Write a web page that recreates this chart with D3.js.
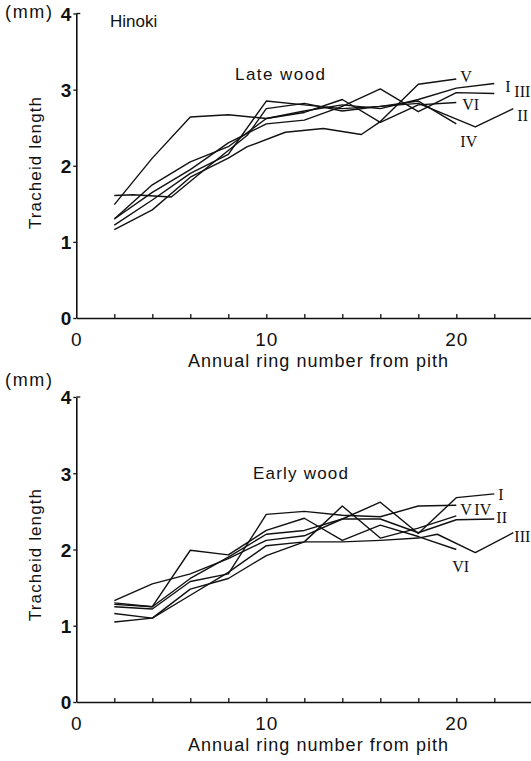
<!DOCTYPE html>
<html>
<head>
<meta charset="utf-8">
<script src="https://cdn.jsdelivr.net/npm/d3@7"></script>
<style>
  html, body { margin: 0; padding: 0; background: #fff; }
  svg { display: block; }
  .sans { font-family: "Liberation Sans", Arial, Helvetica, sans-serif; fill: #111; }
  .roman { font-family: "Liberation Serif", "Times New Roman", serif; fill: #111; }
</style>
</head>
<body>
<svg id="chart" width="531" height="761"></svg>
<script>
// Tracheid length (mm) of Hinoki by annual ring number from pith, six trees I–VI
const treeNames = ["I", "II", "III", "IV", "V", "VI"];

// Late wood
const lateRings = [
  [2, 4, 6, 8, 10, 12, 14, 16, 18, 20, 22],
  [2, 3, 5, 7, 9, 10, 12, 14, 16, 18, 21, 23],
  [2, 4, 6, 8, 10, 12, 14, 16, 18, 20, 22],
  [2, 4, 6, 8, 10, 12, 14, 16, 18, 20],
  [2, 4, 6, 8, 9, 11, 13, 15, 16, 18, 20],
  [2, 4, 6, 8, 10, 12, 14, 16, 18, 20]
];
const lateLengths = [
  [1.30, 1.75, 2.05, 2.25, 2.62, 2.72, 2.80, 2.75, 2.87, 3.02, 3.08],
  [1.61, 1.62, 1.59, 2.00, 2.40, 2.75, 2.82, 2.72, 2.78, 2.82, 2.51, 2.75],
  [1.30, 1.65, 1.95, 2.30, 2.55, 2.60, 2.78, 3.01, 2.71, 2.96, 2.95],
  [1.22, 1.55, 1.90, 2.15, 2.85, 2.80, 2.75, 2.78, 2.85, 2.55],
  [1.16, 1.42, 1.85, 2.10, 2.25, 2.44, 2.49, 2.41, 2.58, 3.07, 3.14],
  [1.49, 2.10, 2.64, 2.67, 2.62, 2.70, 2.87, 2.57, 2.80, 2.83]
];

// Early wood
const earlyRings = [
  [2, 4, 6, 8, 10, 12, 14, 16, 18, 20, 22],
  [2, 4, 6, 8, 10, 12, 14, 16, 18, 20, 22],
  [2, 4, 6, 8, 10, 12, 14, 16, 18, 19, 21, 23],
  [2, 4, 6, 8, 10, 12, 14, 16, 18, 20],
  [2, 4, 6, 8, 10, 12, 14, 16, 18, 20],
  [2, 4, 6, 8, 10, 12, 14, 16, 18, 20]
];
const earlyLengths = [
  [1.28, 1.25, 1.62, 1.90, 2.20, 2.25, 2.40, 2.62, 2.21, 2.68, 2.73],
  [1.33, 1.55, 1.68, 1.88, 2.12, 2.18, 2.40, 2.40, 2.22, 2.39, 2.40],
  [1.05, 1.10, 1.48, 1.62, 1.92, 2.10, 2.10, 2.12, 2.15, 2.20, 1.96, 2.22],
  [1.16, 1.10, 1.40, 1.70, 2.05, 2.10, 2.57, 2.15, 2.28, 2.44],
  [1.25, 1.22, 1.58, 1.68, 2.46, 2.50, 2.45, 2.43, 2.57, 2.58],
  [1.30, 1.25, 1.99, 1.93, 2.25, 2.41, 2.12, 2.32, 2.17, 2.00]
];

const xTickMarks = d3.range(2, 24, 2);
const xTickLabels = [0, 10, 20];
const yTickValues = [0, 1, 2, 3, 4];

const svg = d3.select("#chart");

function drawPanel(cfg) {
  const x = d3.scaleLinear().domain([0, 24]).range([76.3, 532.3]);
  const y = d3.scaleLinear().domain([0, 4]).range([cfg.bottom, cfg.top]);
  const g = svg.append("g");

  // y axis: ticks outward, small hook at the top
  const yAxis = g.append("g")
    .attr("transform", `translate(${x(0)},0)`)
    .call(d3.axisLeft(y).tickValues(yTickValues).tickSize(3).tickSizeOuter(0).tickPadding(2).tickFormat(d3.format("d")));
  yAxis.select(".domain").attr("stroke", "#111").attr("stroke-width", 1.6);
  yAxis.selectAll(".tick line").attr("stroke", "#111").attr("stroke-width", 1.3);
  yAxis.selectAll(".tick text").attr("class", "sans").attr("font-size", 19).attr("font-weight", 600).attr("dy", "0.36em");
  g.append("line")
    .attr("x1", x(0)).attr("x2", x(0) + 4)
    .attr("y1", y(4)).attr("y2", y(4))
    .attr("stroke", "#111").attr("stroke-width", 1.3);

  // x axis: tick marks pointing up into the plot
  const xAxis = g.append("g")
    .attr("transform", `translate(0,${y(0)})`)
    .call(d3.axisBottom(x).tickValues(xTickMarks).tickSizeInner(-4).tickSizeOuter(0).tickFormat(""));
  xAxis.select(".domain").attr("stroke", "#111").attr("stroke-width", 1.6);
  xAxis.selectAll(".tick line").attr("stroke", "#111").attr("stroke-width", 1.3);

  const xLab = g.append("g")
    .attr("transform", `translate(0,${y(0)})`)
    .call(d3.axisBottom(x).tickValues(xTickLabels).tickSize(0).tickPadding(15).tickFormat(d3.format("d")));
  xLab.select(".domain").remove();
  xLab.selectAll(".tick text").attr("class", "sans").attr("font-size", 19).attr("letter-spacing", 1);

  // axis titles
  g.append("text").attr("class", "sans")
    .attr("x", 318).attr("y", y(0) + 49)
    .attr("text-anchor", "middle").attr("font-size", 18)
    .attr("textLength", 260).attr("lengthAdjust", "spacing")
    .text("Annual ring number from pith");
  g.append("text").attr("class", "sans")
    .attr("transform", `translate(41,${cfg.titleMidY}) rotate(-90)`)
    .attr("text-anchor", "middle").attr("font-size", 17)
    .attr("textLength", 132).attr("lengthAdjust", "spacing")
    .text("Tracheid length");
  g.append("text").attr("class", "sans")
    .attr("x", 5).attr("y", cfg.mmY)
    .attr("font-size", 18).attr("textLength", 47).attr("lengthAdjust", "spacing")
    .text("(mm)");

  if (cfg.species) {
    g.append("text").attr("class", "sans")
      .attr("x", 110).attr("y", 27).attr("font-size", 17)
      .text(cfg.species);
  }
  g.append("text").attr("class", "sans")
    .attr("x", cfg.woodX).attr("y", cfg.woodY).attr("font-size", 17)
    .attr("textLength", cfg.woodW).attr("lengthAdjust", "spacing")
    .text(cfg.wood);

  // one line per tree, labelled at its last point
  const line = d3.line().x(d => x(d[0])).y(d => y(d[1]));

  treeNames.forEach((name, i) => {
    const pts = cfg.rings[i].map((r, k) => [r, cfg.lengths[i][k]]);
    g.append("path")
      .datum(pts)
      .attr("fill", "none")
      .attr("stroke", "#111")
      .attr("stroke-width", 1.4)
      .attr("stroke-linejoin", "round")
      .attr("d", line);
    const last = pts[pts.length - 1];
    const off = cfg.labelOffsets[i];
    g.append("text").attr("class", "roman")
      .attr("x", x(last[0]) + off[0])
      .attr("y", y(last[1]) + off[1])
      .attr("font-size", 16)
      .text(name);
  });
}

drawPanel({
  id: "late",
  top: 13.5, bottom: 318,
  titleMidY: 163, mmY: 18,
  species: "Hinoki",
  wood: "Late wood", woodX: 235, woodY: 80, woodW: 90,
  rings: lateRings, lengths: lateLengths,
  labelOffsets: [[11, 8], [4, 12], [20, 4], [4, 23], [4, 3], [6, 7]]
});

drawPanel({
  id: "early",
  top: 397, bottom: 702,
  titleMidY: 555, mmY: 386,
  species: null,
  wood: "Early wood", woodX: 253, woodY: 479, woodW: 95,
  rings: earlyRings, lengths: earlyLengths,
  labelOffsets: [[4, 6], [2, 4], [1, 9], [18, -1], [4, 10], [-4, 22]]
});
</script>
</body>
</html>
